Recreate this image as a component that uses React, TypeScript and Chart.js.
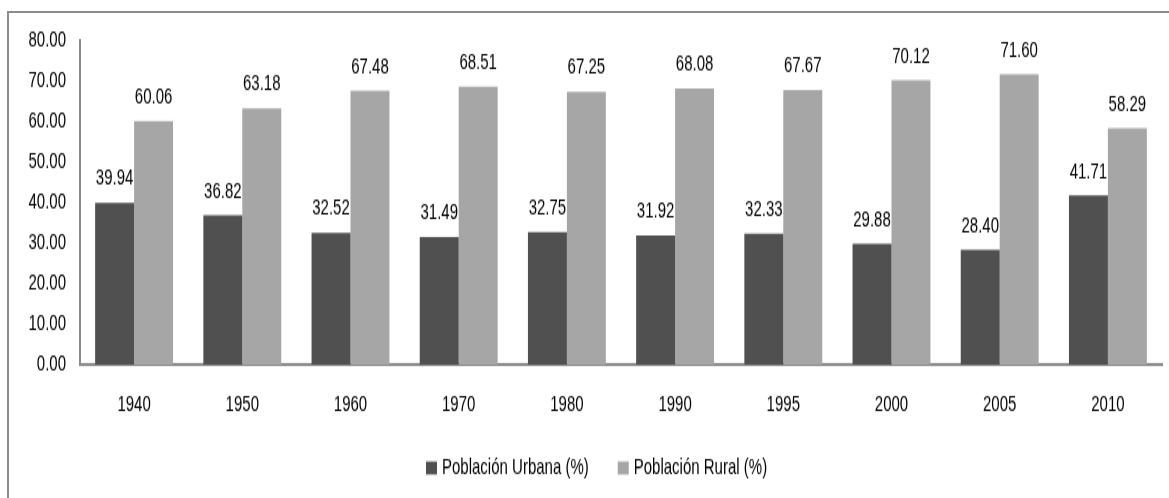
import { useEffect, useRef } from "react";
import { Chart, registerables } from "chart.js";

Chart.register(...registerables);

const categories = ["1940", "1950", "1960", "1970", "1980", "1990", "1995", "2000", "2005", "2010"];
const urbana = [39.94, 36.82, 32.52, 31.49, 32.75, 31.92, 32.33, 29.88, 28.4, 41.71];
const rural = [60.06, 63.18, 67.48, 68.51, 67.25, 68.08, 67.67, 70.12, 71.6, 58.29];
const seriesNames = ["Población Urbana (%)", "Población Rural (%)"];
const seriesColors = ["#505050", "#a6a6a6"];
const yMin = 0;
const yMax = 80;
const yStep = 10;

// canvas drawn at 1169x332 and stretched vertically to 1169x498 (as in the reference)
const W = 1169;
const H = 332;
const SY = 498 / H;
const FONT = "'Liberation Sans', Arial, Helvetica, sans-serif";

const valueLabels = {
  id: "valueLabels",
  afterDatasetsDraw(chart: any) {
    const ctx = chart.ctx;
    ctx.save();
    ctx.font = `15px ${FONT}`;
    ctx.fillStyle = "#000";
    ctx.textAlign = "center";
    ctx.textBaseline = "middle";
    chart.data.datasets.forEach((ds: any, i: number) => {
      const meta = chart.getDatasetMeta(i);
      meta.data.forEach((el: any, j: number) => {
        const v = ds.data[j] as number;
        ctx.fillText(v.toFixed(2), el.x, el.y - 16);
      });
    });
    ctx.restore();
  },
};

const customLegend = {
  id: "customLegend",
  afterDraw(chart: any) {
    const ctx = chart.ctx;
    ctx.save();
    ctx.font = `15px ${FONT}`;
    ctx.textBaseline = "middle";
    ctx.textAlign = "left";
    let x = 426;
    const cy = 468 / SY;
    const boxW = 11;
    const boxH = 13 / SY;
    chart.data.datasets.forEach((ds: any) => {
      ctx.fillStyle = ds.backgroundColor;
      ctx.fillRect(x, cy - boxH / 2, boxW, boxH);
      ctx.fillStyle = "#000";
      const tx = x + boxW + 5;
      ctx.fillText(ds.label, tx, cy);
      x = tx + ctx.measureText(ds.label).width + 29;
    });
    ctx.restore();
  },
};

export default function App() {
  const ref = useRef<HTMLCanvasElement | null>(null);

  useEffect(() => {
    if (!ref.current) return;
    const chart = new Chart(ref.current, {
      type: "bar",
      data: {
        labels: categories,
        datasets: [
          { label: seriesNames[0], data: urbana, backgroundColor: seriesColors[0] },
          { label: seriesNames[1], data: rural, backgroundColor: seriesColors[1] },
        ],
      },
      options: {
        responsive: false,
        animation: false,
        devicePixelRatio: 1,
        layout: { padding: { top: 40 / SY, left: 0, right: 7, bottom: 0 } },
        datasets: { bar: { categoryPercentage: 0.72, barPercentage: 1.0 } },
        plugins: {
          legend: { display: false },
          tooltip: { enabled: false },
        },
        scales: {
          x: {
            grid: { display: false, drawTicks: false },
            border: { display: true, color: "#8a8a8a", width: 2 },
            ticks: { color: "#000", font: { family: FONT, size: 15 }, padding: 18 },
            afterFit: (s: any) => {
              s.height = H - 365 / SY;
            },
          },
          y: {
            min: yMin,
            max: yMax,
            grid: { display: false, drawTicks: false },
            border: { display: true, color: "#8a8a8a", width: 2 },
            ticks: {
              stepSize: yStep,
              color: "#000",
              font: { family: FONT, size: 15 },
              padding: 14,
              callback: (v: any) => Number(v).toFixed(2),
            },
            afterFit: (s: any) => {
              s.width = 80;
            },
          },
        },
      },
      plugins: [valueLabels, customLegend],
    });
    return () => chart.destroy();
  }, []);

  return (
    <div
      style={{
        position: "fixed",
        left: 0,
        top: 0,
        width: 1169,
        height: 498,
        overflow: "hidden",
        background: "#fff",
      }}
    >
      <div
        style={{
          position: "absolute",
          left: 7,
          top: 11,
          width: 1300,
          height: 600,
          borderLeft: "2px solid #8c8c8c",
          borderTop: "2px solid #8c8c8c",
        }}
      />
      <canvas
        ref={ref}
        width={W}
        height={H}
        style={{ position: "absolute", left: 0, top: 0, width: 1169, height: 498, display: "block" }}
      />
    </div>
  );
}
